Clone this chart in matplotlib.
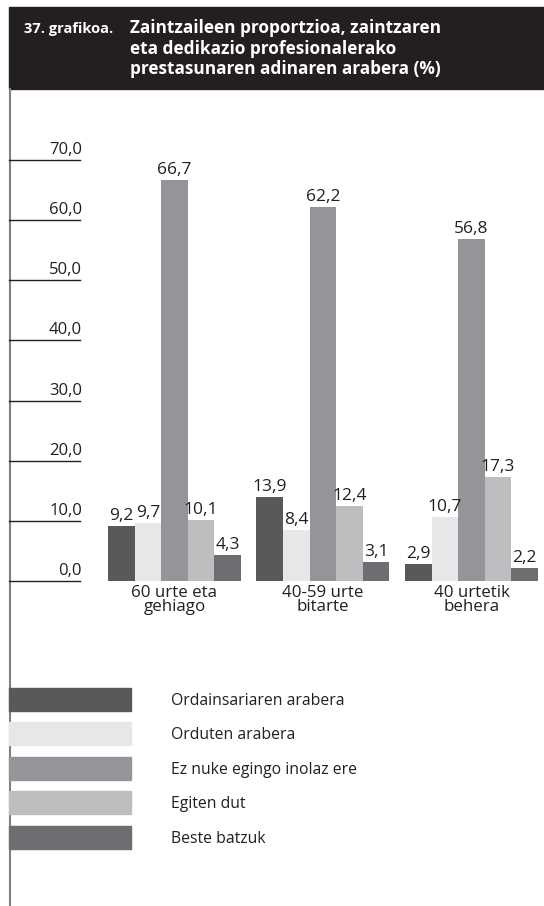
import matplotlib
matplotlib.use("Agg")
import matplotlib.pyplot as plt
import numpy as np
from matplotlib.patches import Rectangle

categories = ["60 urte eta\ngehiago", "40-59 urte\nbitarte", "40 urtetik\nbehera"]
series_names = ["Ordainsariaren arabera", "Orduten arabera", "Ez nuke egingo inolaz ere",
                "Egiten dut", "Beste batzuk"]
values = {
    "Ordainsariaren arabera": [9.2, 13.9, 2.9],
    "Orduten arabera": [9.7, 8.4, 10.7],
    "Ez nuke egingo inolaz ere": [66.7, 62.2, 56.8],
    "Egiten dut": [10.1, 12.4, 17.3],
    "Beste batzuk": [4.3, 3.1, 2.2],
}
colors = ["#58595b", "#e6e7e8", "#939598", "#bcbec0", "#6d6e71"]
yticks = [0, 10, 20, 30, 40, 50, 60, 70]

FONT = ["Open Sans", "DejaVu Sans"]
plt.rcParams['font.family'] = FONT

W, H = 544, 906
fig = plt.figure(figsize=(W / 100, H / 100), dpi=100)

# background overlay axes in pixel coords (y downward)
bg = fig.add_axes([0, 0, 1, 1])
bg.set_xlim(0, W)
bg.set_ylim(H, 0)
bg.axis("off")

# title bar
bg.add_patch(Rectangle((9, 7), W - 9, 82, color="#231f20", zorder=1))
bg.text(24, 33, "37. grafikoa.", color="white", fontsize=10.5, fontweight="bold",
        va="baseline", ha="left", zorder=2)
title_lines = ["Zaintzaileen proportzioa, zaintzaren",
               "eta dedikazio profesionalerako",
               "prestasunaren adinaren arabera (%)"]
for i, line in enumerate(title_lines):
    bg.text(130, 33 + i * 20.5, line, color="white", fontsize=12.4, fontweight="bold",
            va="baseline", ha="left", zorder=2)

# left vertical line
bg.plot([9.5, 9.5], [89, H], color="#808080", lw=1.5, zorder=1)

# data axes
y0_px, y70_px = 581, 160
spacing = 148.5
c0 = 174.5
ax = fig.add_axes([0, 1 - y0_px / H, 1, (y0_px - y70_px) / H])
ax.set_ylim(0, 70)
ax.set_xlim(-c0 / spacing, (W - c0) / spacing)
ax.axis("off")

n = len(series_names)
bw = 26.6 / spacing
x = np.arange(len(categories))
for i, name in enumerate(series_names):
    xs = x + (i - (n - 1) / 2) * bw
    vals = values[name]
    ax.bar(xs, vals, width=bw, color=colors[i], zorder=2)
    for xi, v in zip(xs, vals):
        ax.text(xi, v + 1.0, f"{v:.1f}".replace(".", ","), ha="center", va="baseline",
                fontsize=12.5, color="#231f20", zorder=3)

for t in yticks:
    ax.axhline(t, xmin=9 / W, xmax=80 / W, color="#231f20", lw=1.0, clip_on=False)
    ax.text(82 / W, t + 1.0, f"{t:.1f}".replace(".", ","), transform=ax.get_yaxis_transform(),
            ha="right", va="baseline", fontsize=12, color="#231f20")

for xi, cat in zip(x, categories):
    ax.text(xi, -0.6, cat, ha="center", va="top", fontsize=12.2, color="#231f20",
            linespacing=0.9)

# legend
leg_top = [688, 722, 757, 791, 826]
for i, name in enumerate(series_names):
    bg.add_patch(Rectangle((9, leg_top[i]), 122, 23, color=colors[i], zorder=1))
    bg.text(171, leg_top[i] + 13, name, ha="left", va="center", fontsize=11.3,
            color="#231f20")

fig.savefig("out.png", dpi=100)
